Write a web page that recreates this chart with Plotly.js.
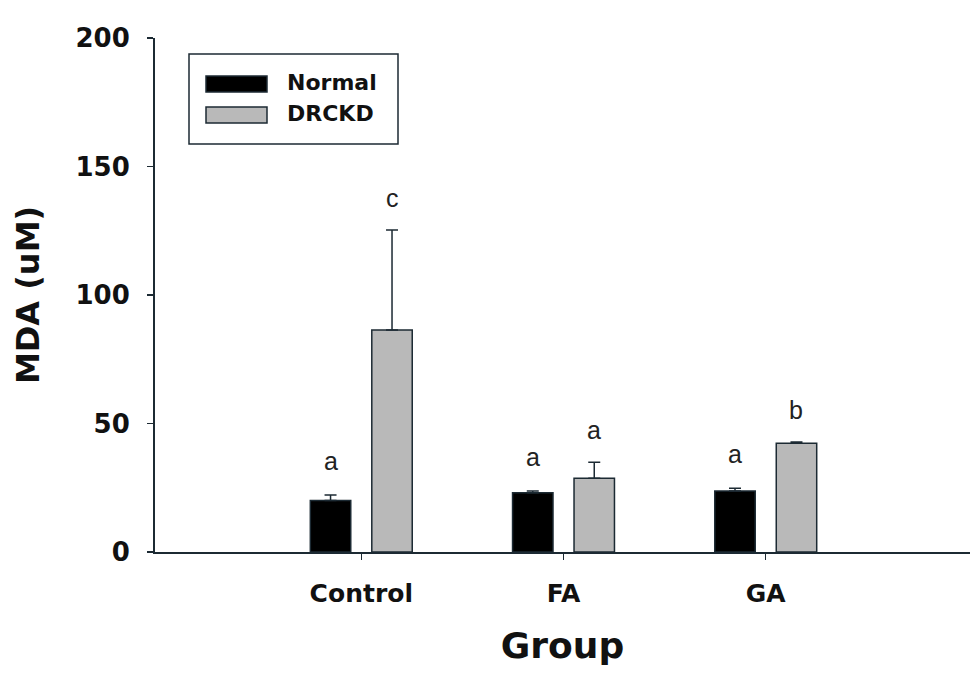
<!DOCTYPE html>
<html>
<head>
<meta charset="utf-8">
<script src="https://cdn.plot.ly/plotly-3.0.1.min.js"></script>
<style>html,body{margin:0;padding:0;background:#fff;}#chart{width:976px;height:675px;}</style>
</head>
<body>
<div id="chart"></div>
<script>
// ---- data ----
const groups = ["Control", "FA", "GA"];
const seriesNames = ["Normal", "DRCKD"];
const normalMean = [20.0, 23.1, 23.7];
const normalErr = [2.2, 0.6, 1.1];
const drckdMean = [86.4, 28.7, 42.3];
const drckdErr = [38.9, 6.2, 0.5];
const normalLetters = ["a", "a", "a"];
const drckdLetters = ["c", "a", "b"];
const yTicks = [0, 50, 100, 150, 200];

// ---- styling ----
const lineCol = "#1c2a33";
const boldFont = "DejaVu Sans, sans-serif";
const barW = 0.2;
const offN = -0.252, offD = 0.052;

function barTrace(name, y, err, fill, off) {
  return {
    type: "bar", name: name, x: groups, y: y,
    width: barW, offset: off,
    marker: {color: fill, line: {color: lineCol, width: 1.5}},
    error_y: {type: "data", symmetric: false, array: err, arrayminus: err.map(() => 0),
              color: lineCol, thickness: 1.5, width: 6},
    showlegend: false, hoverinfo: "x+y"
  };
}

const traces = [
  barTrace(seriesNames[0], normalMean, normalErr, "#000000", offN),
  barTrace(seriesNames[1], drckdMean, drckdErr, "#b9b9b9", offD)
];

const annotations = [];
groups.forEach((g, i) => {
  annotations.push({x: i + offN + barW / 2, y: normalMean[i] + normalErr[i], xref: "x", yref: "y",
    text: normalLetters[i], showarrow: false, yshift: 34, yanchor: "middle",
    font: {family: "Liberation Sans, Arial, sans-serif", size: 25, color: "#222"}});
  annotations.push({x: i + offD + barW / 2, y: drckdMean[i] + drckdErr[i], xref: "x", yref: "y",
    text: drckdLetters[i], showarrow: false, yshift: 32, yanchor: "middle",
    font: {family: "Liberation Sans, Arial, sans-serif", size: 25, color: "#222"}});
});

// custom legend (wide swatches like the original)
const legendFills = ["#000000", "#b9b9b9"];
const shapes = [
  {type: "rect", xref: "paper", yref: "paper", xsizemode: "pixel", ysizemode: "pixel",
   xanchor: 0, yanchor: 0, x0: 34, x1: 243, y0: 408, y1: 498,
   line: {color: lineCol, width: 1.5}, fillcolor: "rgba(0,0,0,0)"}
];
seriesNames.forEach((n, k) => {
  const yc = 468 - k * 31;
  shapes.push({type: "rect", xref: "paper", yref: "paper", xsizemode: "pixel", ysizemode: "pixel",
    xanchor: 0, yanchor: 0, x0: 51, x1: 112, y0: yc - 8, y1: yc + 8,
    line: {color: lineCol, width: 1.5}, fillcolor: legendFills[k]});
  annotations.push({xref: "paper", yref: "paper", x: 130 / 815, y: (yc + 2) / 514,
    xanchor: "left", yanchor: "middle", showarrow: false, text: n,
    font: {family: boldFont, size: 22, color: "#111", weight: "bold"}});
});

const layout = {
  width: 976, height: 675,
  margin: {l: 155, r: 6, t: 38, b: 123},
  paper_bgcolor: "#fff", plot_bgcolor: "#fff",
  barmode: "group",
  xaxis: {
    type: "category", range: [-1.02, 3.01],
    showline: true, linecolor: lineCol, linewidth: 2,
    ticks: "outside", ticklen: 6, tickcolor: lineCol, tickwidth: 1.5,
    ticklabelstandoff: 12,
    tickfont: {family: boldFont, size: 25, color: "#111", weight: "bold"},
    showgrid: false, zeroline: false,
    title: {text: "Group", font: {family: boldFont, size: 36, color: "#111", weight: "bold"}, standoff: 26}
  },
  yaxis: {
    range: [0, 200], tickvals: yTicks, ticktext: yTicks.map(String),
    showline: true, linecolor: lineCol, linewidth: 2,
    ticks: "outside", ticklen: 6, tickcolor: lineCol, tickwidth: 1.5,
    ticklabelstandoff: 12,
    tickfont: {family: boldFont, size: 26, color: "#111", weight: "bold"},
    showgrid: false, zeroline: false,
    title: {text: "MDA (uM)", font: {family: boldFont, size: 32, color: "#111", weight: "bold"}, standoff: 26}
  },
  shapes: shapes,
  annotations: annotations,
  showlegend: false
};

Plotly.newPlot("chart", traces, layout, {displayModeBar: false, staticPlot: true});
</script>
</body>
</html>
